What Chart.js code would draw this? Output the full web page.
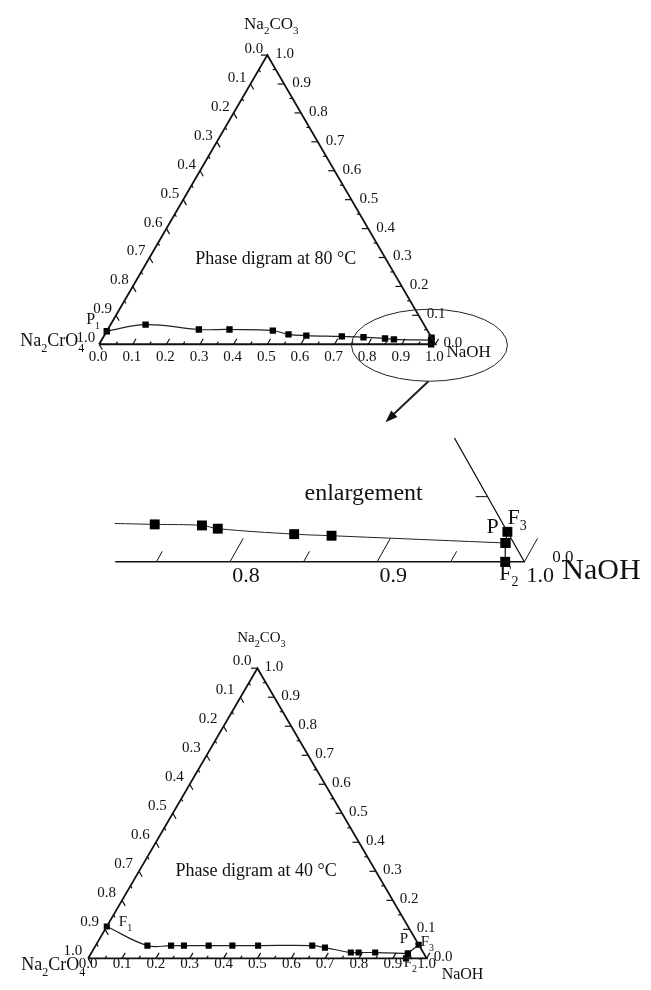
<!DOCTYPE html>
<html>
<head>
<meta charset="utf-8">
<script src="https://cdn.jsdelivr.net/npm/chart.js@4.4.0/dist/chart.umd.min.js"></script>
<style>
  body { margin: 0; background: #fff; width: 651px; height: 990px; position: relative; overflow: hidden; }
  canvas { position: absolute; left: 0; }
</style>
</head>
<body>
<canvas id="top" width="651" height="430" style="top:0"></canvas>
<canvas id="enl" width="651" height="190" style="top:430px"></canvas>
<canvas id="bot" width="651" height="370" style="top:620px"></canvas>
<script>
// mass fractions: NaOH and Na2CO3 (Na2CrO4 = rest)
// 80 °C, P1 ... P
const naoh80 = [0.0, 0.104, 0.271, 0.362, 0.493, 0.546, 0.601, 0.708, 0.774, 0.840, 0.868, 0.980];
const co3_80 = [0.045, 0.068, 0.051, 0.051, 0.047, 0.034, 0.030, 0.027, 0.024, 0.020, 0.017, 0.0144];
// 80 °C end points F3, P, F2
const naohEnd80 = [0.977, 0.980, 0.987];
const co3End80 = [0.023, 0.0144, 0.0];
// enlargement of the NaOH corner (first entry only continues the line)
const naohZoom = [0.707, 0.7345, 0.767, 0.779, 0.833, 0.859, 0.980];
const co3Zoom = [0.0294, 0.0287, 0.0279, 0.0254, 0.0212, 0.0200, 0.0144];
// 40 °C, F1 ... P
const naoh40 = [0.0, 0.153, 0.223, 0.261, 0.334, 0.404, 0.480, 0.640, 0.681, 0.766, 0.789, 0.838, 0.936];
const co3_40 = [0.110, 0.044, 0.044, 0.044, 0.044, 0.044, 0.044, 0.044, 0.037, 0.020, 0.020, 0.020, 0.017];
// 40 °C end points F3, P, F2
const naohEnd40 = [0.953, 0.936, 0.939];
const co3End40 = [0.047, 0.017, 0.0];

const tickVals = [0, 0.1, 0.2, 0.3, 0.4, 0.5, 0.6, 0.7, 0.8, 0.9, 1.0];
const tickText = ['0.0', '0.1', '0.2', '0.3', '0.4', '0.5', '0.6', '0.7', '0.8', '0.9', '1.0'];

const SERIF = '"Liberation Serif", "Times New Roman", serif';
const SQ3 = Math.sqrt(3) / 2;

function cart(n, c) { return { x: n + c / 2, y: c * SQ3 }; }
function pts(ns, cs) { return ns.map((n, i) => cart(n, cs[i])); }
function px(chart, p) { return [chart.scales.x.getPixelForValue(p.x), chart.scales.y.getPixelForValue(p.y)]; }

// formula with subscript digits
function chem(ctx, s, x, y, size, align) {
  const parts = s.match(/[A-Za-z]+|\d+/g);
  const big = size + 'px ' + SERIF, small = Math.round(size * 0.65) + 'px ' + SERIF;
  let w = 0;
  parts.forEach(p => { ctx.font = /\d/.test(p) ? small : big; w += ctx.measureText(p).width; });
  let cx = align === 'right' ? x - w : align === 'center' ? x - w / 2 : x;
  ctx.textAlign = 'left';
  ctx.textBaseline = 'middle';
  parts.forEach(p => {
    const sub = /\d/.test(p);
    ctx.font = sub ? small : big;
    ctx.fillText(p, cx, sub ? y + size * 0.4 : y);
    cx += ctx.measureText(p).width;
  });
}

function text(ctx, s, x, y, size, align) {
  ctx.font = size + 'px ' + SERIF;
  ctx.textAlign = align;
  ctx.textBaseline = 'middle';
  ctx.fillText(s, x, y);
}

// edge: b = NaOH axis, r = Na2CO3 axis, l = Na2CrO4 axis
function edgePoint(edge, v) {
  if (edge === 'b') return cart(v, 0);
  if (edge === 'r') return cart(1 - v, v);
  return cart(0, 1 - v);
}
const edgeDir = { b: [0.5, SQ3], r: [-1, 0], l: [0.5, -SQ3] };

function drawTicks(chart, edge, from, to, major, minor, lw) {
  const ctx = chart.ctx;
  ctx.save();
  ctx.strokeStyle = '#111';
  ctx.lineWidth = lw;
  for (let k = Math.round(from * 20); k <= Math.round(to * 20); k++) {
    const v = k / 20, len = k % 2 === 0 ? major : minor;
    const p = edgePoint(edge, v), d = edgeDir[edge];
    const a = px(chart, p), b = px(chart, { x: p.x + d[0] * len, y: p.y + d[1] * len });
    ctx.beginPath(); ctx.moveTo(a[0], a[1]); ctx.lineTo(b[0], b[1]); ctx.stroke();
  }
  ctx.restore();
}

function drawLabels(chart, edge, vals, labels, dx, dy, align, size) {
  const ctx = chart.ctx;
  ctx.fillStyle = '#111';
  vals.forEach((v, i) => {
    const a = px(chart, edgePoint(edge, v));
    text(ctx, labels[i], a[0] + dx, a[1] + dy, size, align);
  });
}

function frameSet(data, w) {
  return { data: data, showLine: true, borderColor: '#111', borderWidth: w, pointRadius: 0, tension: 0 };
}
function curveSet(data, r, w, hideFirst) {
  return {
    data: data,
    showLine: true, borderColor: '#222', borderWidth: w, tension: 0.4,
    pointStyle: 'rect', backgroundColor: '#000',
    pointRadius: data.map((_, i) => (hideFirst && i === 0) ? 0 : r),
    pointBorderWidth: 0
  };
}
function endSet(data, r, w) {
  return {
    data: data,
    showLine: true, borderColor: '#222', borderWidth: w, tension: 0,
    pointStyle: 'rect', backgroundColor: '#000', pointRadius: r, pointBorderWidth: 0
  };
}

// ox, oy: pixel of the Na2CrO4 corner; sx, sy: pixels per unit
function ternary(id, ox, oy, sx, sy, datasets, draw) {
  const cv = document.getElementById(id);
  const W = cv.width, H = cv.height;
  return new Chart(cv, {
    type: 'scatter',
    data: { datasets: datasets },
    options: {
      responsive: false,
      animation: false,
      layout: { padding: 0 },
      scales: {
        x: { type: 'linear', display: false, min: -ox / sx, max: (W - ox) / sx },
        y: { type: 'linear', display: false, min: (oy - H) / sy, max: oy / sy }
      },
      plugins: { legend: { display: false }, tooltip: { enabled: false } }
    },
    plugins: [{ id: 'deco', afterDatasetsDraw: draw }]
  });
}

const triangle = [cart(0, 0), cart(1, 0), cart(0, 1), cart(0, 0)];

// ---- 80 °C ----
ternary('top', 96, 347, 341, 341, [
  frameSet(triangle, 1.8),
  curveSet(pts(naoh80, co3_80), 4.5, 1.2, false),
  endSet(pts(naohEnd80, co3End80), 4.5, 1.2)
], chart => {
  const ctx = chart.ctx;
  ['b', 'r', 'l'].forEach(e => drawTicks(chart, e, 0, 1, 0.019, 0.009, 1.2));
  drawLabels(chart, 'b', tickVals, tickText, -1, 13, 'center', 15);
  drawLabels(chart, 'r', tickVals, tickText, 8, -1, 'left', 15);
  drawLabels(chart, 'l', tickVals, tickText, -4, -6, 'right', 15);
  const A = px(chart, cart(0, 1)), L = px(chart, cart(0, 0)), R = px(chart, cart(1, 0));
  chem(ctx, 'Na2CO3', A[0] + 4, A[1] - 31, 17, 'center');
  chem(ctx, 'Na2CrO4', L[0] - 15, L[1] - 3, 18, 'right');
  chem(ctx, 'NaOH', R[0] + 11, R[1] + 8, 17, 'left');
  chem(ctx, 'P1', L[0] - 13, L[1] - 24, 16, 'left');
  const T = px(chart, { x: 0.525, y: 0.255 });
  text(ctx, 'Phase digram at 80 °C', T[0], T[1], 18, 'center');
  // circle round the NaOH corner and arrow to the enlargement
  ctx.save();
  ctx.strokeStyle = '#222';
  ctx.lineWidth = 1;
  ctx.beginPath(); ctx.ellipse(R[0] - 6, R[1] + 1, 78, 36, 0, 0, Math.PI * 2); ctx.stroke();
  ctx.lineWidth = 2;
  const a0 = [R[0] - 7, R[1] + 37], a1 = [R[0] - 50, R[1] + 78];
  ctx.beginPath(); ctx.moveTo(a0[0], a0[1]); ctx.lineTo(a1[0] + 6, a1[1] - 6); ctx.stroke();
  const ang = Math.atan2(a1[1] - a0[1], a1[0] - a0[0]);
  ctx.fillStyle = '#111';
  ctx.beginPath();
  ctx.moveTo(a1[0], a1[1]);
  ctx.lineTo(a1[0] - 13 * Math.cos(ang - 0.35), a1[1] - 13 * Math.sin(ang - 0.35));
  ctx.lineTo(a1[0] - 13 * Math.cos(ang + 0.35), a1[1] - 13 * Math.sin(ang + 0.35));
  ctx.closePath(); ctx.fill();
  ctx.restore();
});

// ---- enlargement of the NaOH corner (drawn a bit taller than wide) ----
const zoomFrom = 0.722;
const zoomTop = 0.095;
ternary('enl', 528.7 - 1504, 134.7, 1504, 1624, [
  frameSet([cart(zoomFrom, 0), cart(1, 0), cart(1 - zoomTop, zoomTop)], 1.3),
  curveSet(pts(naohZoom, co3Zoom), 7, 1, true),
  endSet(pts(naohEnd80, co3End80), 7, 1.2)
], chart => {
  const ctx = chart.ctx;
  drawTicks(chart, 'b', 0.75, 1, 0.018, 0.008, 1);
  drawTicks(chart, 'r', 0.05, 0.05, 0.018, 0.008, 1);
  drawLabels(chart, 'b', [0.8, 0.9, 1.0], ['0.8', '0.9', '1.0'], 16, 14, 'center', 22);
  const R = px(chart, cart(1, 0));
  text(ctx, '0.0', R[0] + 28, R[1] - 4, 17, 'left');
  text(ctx, 'NaOH', R[0] + 38, R[1] + 9, 30, 'left');
  const Pp = px(chart, cart(naohEnd80[1], co3End80[1]));
  text(ctx, 'P', Pp[0] - 19, Pp[1] - 16, 22, 'left');
  chem(ctx, 'F3', Pp[0] + 2, Pp[1] - 25, 22, 'left');
  chem(ctx, 'F2', R[0] - 25, R[1] + 12, 22, 'left');
  const T = px(chart, { x: 0.8908, y: 0.0454 });
  text(ctx, 'enlargement', T[0], T[1], 24, 'center');
});

// ---- 40 °C ----
ternary('bot', 85, 342, 343, 343, [
  frameSet(triangle, 1.8),
  curveSet(pts(naoh40, co3_40), 4.3, 1.2, false),
  endSet(pts(naohEnd40, co3End40), 4.3, 1.2)
], chart => {
  const ctx = chart.ctx;
  ['b', 'r', 'l'].forEach(e => drawTicks(chart, e, 0, 1, 0.019, 0.009, 1.2));
  drawLabels(chart, 'b', tickVals, tickText, 0, 6, 'center', 15);
  drawLabels(chart, 'r', tickVals, tickText, 7, -1, 'left', 15);
  drawLabels(chart, 'l', tickVals, tickText, -6, -7, 'right', 15);
  const A = px(chart, cart(0, 1)), L = px(chart, cart(0, 0)), R = px(chart, cart(1, 0));
  chem(ctx, 'Na2CO3', A[0] + 4, A[1] - 30, 15, 'center');
  chem(ctx, 'Na2CrO4', L[0] - 3, L[1] + 7, 18, 'right');
  chem(ctx, 'NaOH', R[0] + 15, R[1] + 16, 16, 'left');
  const F1 = px(chart, cart(naoh40[0], co3_40[0]));
  chem(ctx, 'F1', F1[0] + 12, F1[1] - 4, 15, 'left');
  const Pp = px(chart, cart(naohEnd40[1], co3End40[1]));
  text(ctx, 'P', Pp[0] - 4, Pp[1] - 14, 15, 'center');
  chem(ctx, 'F3', R[0] - 6, R[1] - 16, 15, 'left');
  chem(ctx, 'F2', R[0] - 23, R[1] + 5, 15, 'left');
  const T = px(chart, { x: 0.496, y: 0.2595 });
  text(ctx, 'Phase digram at 40 °C', T[0], T[1], 18, 'center');
});
</script>
</body>
</html>
